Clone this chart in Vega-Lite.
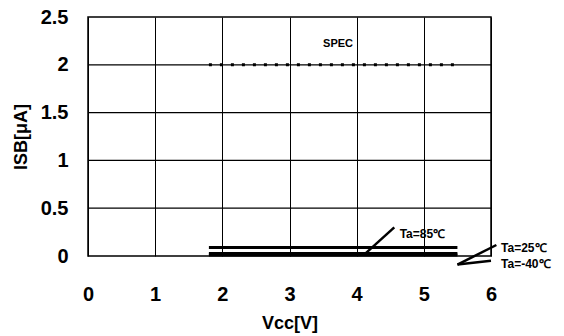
{
  "$schema": "https://vega.github.io/schema/vega-lite/v6.json",
  "autosize": {"type": "none"},
  "width": 403,
  "height": 239,
  "padding": {"left": 88, "top": 17, "right": 73, "bottom": 80},
  "background": "white",
  "config": {
    "font": "Liberation Sans",
    "view": {"stroke": "black", "strokeWidth": 1.5},
    "axis": {
      "gridColor": "black", "gridOpacity": 1, "gridWidth": 1,
      "ticks": false, "domain": false,
      "labelFont": "Liberation Sans", "labelFontSize": 20, "labelFontWeight": "bold", "labelColor": "black",
      "titleFont": "Liberation Sans", "titleFontSize": 18, "titleFontWeight": "bold", "titleColor": "black"
    }
  },
  "datasets": {
    "curves": [
      {"series": "85", "x": 1.8, "y": 0.09},
      {"series": "85", "x": 3, "y": 0.09},
      {"series": "85", "x": 4, "y": 0.09},
      {"series": "85", "x": 5.5, "y": 0.09},
      {"series": "25", "x": 1.8, "y": 0.025},
      {"series": "25", "x": 3, "y": 0.025},
      {"series": "25", "x": 4, "y": 0.025},
      {"series": "25", "x": 5.5, "y": 0.025},
      {"series": "-40", "x": 1.8, "y": 0.01},
      {"series": "-40", "x": 3, "y": 0.01},
      {"series": "-40", "x": 4, "y": 0.01},
      {"series": "-40", "x": 5.5, "y": 0.01}
    ],
    "hgrid": [
      {"x": 0, "x2": 6, "y": 0.5},
      {"x": 0, "x2": 6, "y": 1},
      {"x": 0, "x2": 6, "y": 1.5},
      {"x": 0, "x2": 6, "y": 2}
    ],
    "spec": [{"x": 1.8, "x2": 5.5, "y": 2}],
    "leaders": [
      {"x": 4.12, "y": 0.02, "x2": 4.56, "y2": 0.30},
      {"x": 5.5, "y": -0.09, "x2": 6.08, "y2": 0.115},
      {"x": 5.5, "y": -0.09, "x2": 6.0, "y2": -0.05}
    ],
    "labels": [
      {"x": 3.5, "y": 2.22, "label": "SPEC", "size": 11},
      {"x": 4.64, "y": 0.23, "label": "Ta=85℃", "size": 12},
      {"x": 6.15, "y": 0.08, "label": "Ta=25℃", "size": 12},
      {"x": 6.15, "y": -0.08, "label": "Ta=-40℃", "size": 12}
    ]
  },
  "encoding": {
    "x": {"field": "x", "type": "quantitative", "scale": {"domain": [0, 6], "nice": false},
          "axis": {"grid": true, "values": [0, 1, 2, 3, 4, 5, 6], "format": "d", "labelPadding": 28, "title": "Vcc[V]", "titlePadding": 10, "labelFlush": false}},
    "y": {"field": "y", "type": "quantitative", "scale": {"domain": [0, 2.5], "nice": false},
          "axis": {"grid": false, "values": [0, 0.5, 1, 1.5, 2, 2.5], "labelOverlap": false, "format": "~g", "labelPadding": 20, "title": "ISB[μA]", "titlePadding": 10, "labelFlush": false}}
  },
  "layer": [
    {
      "data": {"name": "hgrid"},
      "mark": {"type": "rule", "color": "black", "strokeWidth": 1.2},
      "encoding": {"x2": {"field": "x2"}}
    },
    {
      "data": {"name": "curves"},
      "mark": {"type": "line", "color": "black", "strokeWidth": 3},
      "encoding": {"detail": {"field": "series"}}
    },
    {
      "data": {"name": "spec"},
      "mark": {"type": "rule", "color": "black", "strokeWidth": 3, "strokeDash": [3, 8]},
      "encoding": {"x2": {"field": "x2"}}
    },
    {
      "data": {"name": "leaders"},
      "mark": {"type": "rule", "color": "black", "strokeWidth": 2.5, "clip": false},
      "encoding": {"x2": {"field": "x2"}, "y2": {"field": "y2"}}
    },
    {
      "data": {"name": "labels"},
      "mark": {"type": "text", "color": "black", "fontWeight": "bold", "baseline": "middle", "align": "left", "clip": false},
      "encoding": {
        "text": {"field": "label"},
        "size": {"field": "size", "type": "quantitative", "scale": null}
      }
    }
  ]
}
